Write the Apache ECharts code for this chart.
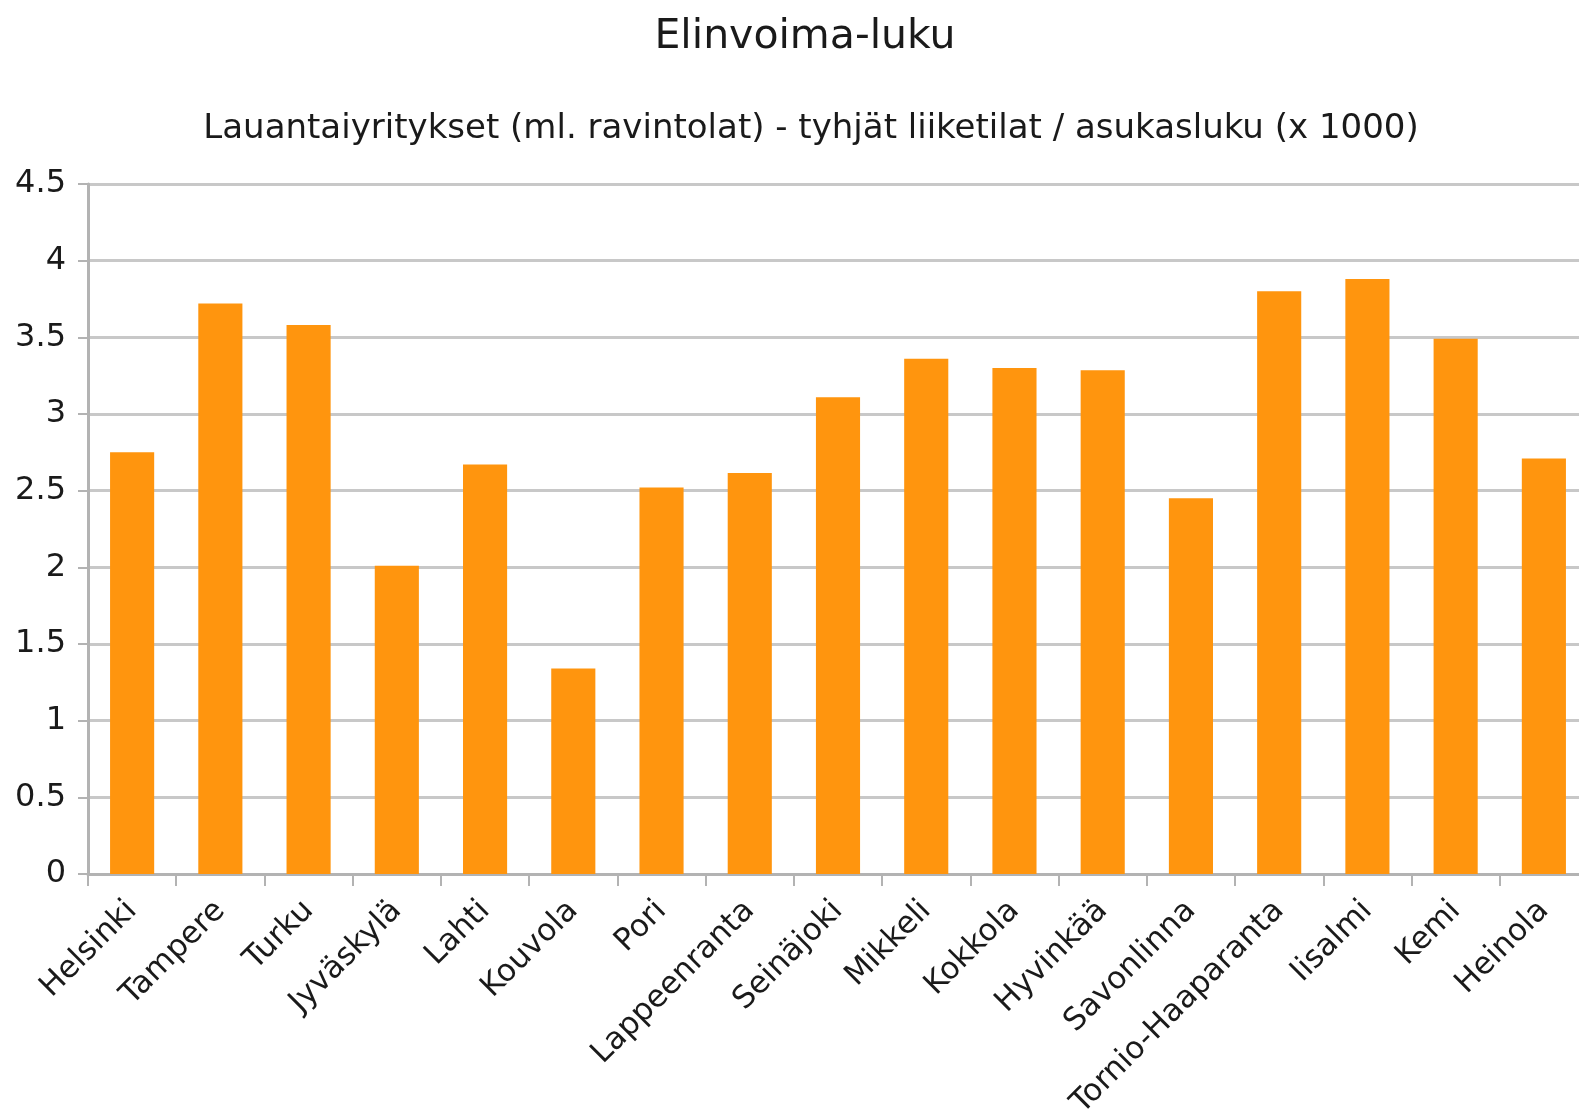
<!DOCTYPE html>
<html lang="fi">

<head>
    <meta charset="UTF-8">
    <title>Elinvoima-luku</title>
    <script src="https://cdn.jsdelivr.net/npm/echarts@6/dist/echarts.min.js"></script>
    <style>
        body { margin: 0; background: #fff; }
    </style>
</head>

<body>
    <div id="main" style="width: 1579px;height: 1115px;"></div>
    <script>
        var cities = ['Helsinki', 'Tampere', 'Turku', 'Jyväskylä', 'Lahti', 'Kouvola', 'Pori', 'Lappeenranta',
            'Seinäjoki', 'Mikkeli', 'Kokkola', 'Hyvinkää', 'Savonlinna', 'Tornio-Haaparanta', 'Iisalmi', 'Kemi', 'Heinola'];
        var values = [2.75, 3.72, 3.58, 2.01, 2.67, 1.34, 2.52, 2.615, 3.11, 3.36, 3.30, 3.285, 2.45, 3.80, 3.88, 3.49, 2.71];
        var yTicks = [0, 0.5, 1, 1.5, 2, 2.5, 3, 3.5, 4, 4.5];

        var chart = echarts.init(document.getElementById('main'));
        var font = 'DejaVu Sans';

        chart.setOption({
            animation: false,
            textStyle: { fontFamily: font },
            title: [
                {
                    text: 'Elinvoima-luku',
                    left: 800, top: 12,
                    textAlign: 'center',
                    textStyle: { fontFamily: font, fontSize: 41, fontWeight: 'normal', color: '#1a1a1a' }
                },
                {
                    text: 'Lauantaiyritykset (ml. ravintolat) - tyhjät liiketilat / asukasluku (x 1000)',
                    left: 806, top: 107,
                    textAlign: 'center',
                    textStyle: { fontFamily: font, fontSize: 34, fontWeight: 'normal', color: '#1a1a1a' }
                }
            ],
            grid: { left: 88, top: 184, width: 1500, height: 690, containLabel: false, outerBoundsMode: 'none' },
            xAxis: {
                type: 'category',
                data: cities,
                axisLine: { lineStyle: { color: '#b3b3b3', width: 3 } },
                axisTick: { show: true, length: 12, lineStyle: { color: '#b3b3b3', width: 2 } },
                axisLabel: {
                    rotate: 45, interval: 0, margin: 32,
                    fontFamily: font, fontSize: 31, color: '#1a1a1a'
                }
            },
            yAxis: {
                type: 'value',
                min: 0, max: 4.5, interval: 0.5,
                axisLine: { show: true, lineStyle: { color: '#b3b3b3', width: 3 } },
                axisTick: { show: true, length: 10, lineStyle: { color: '#b3b3b3', width: 2 } },
                splitLine: { lineStyle: { color: '#c8c8c8', width: 3 } },
                axisLabel: {
                    margin: 22, fontFamily: font, fontSize: 32, color: '#1a1a1a',
                    formatter: function (v) { return yTicks.indexOf(v) >= 0 ? String(v) : ''; }
                }
            },
            series: [{
                type: 'bar',
                data: values,
                barWidth: '50%',
                itemStyle: { color: '#ff950e' }
            }]
        });
    </script>
</body>

</html>
